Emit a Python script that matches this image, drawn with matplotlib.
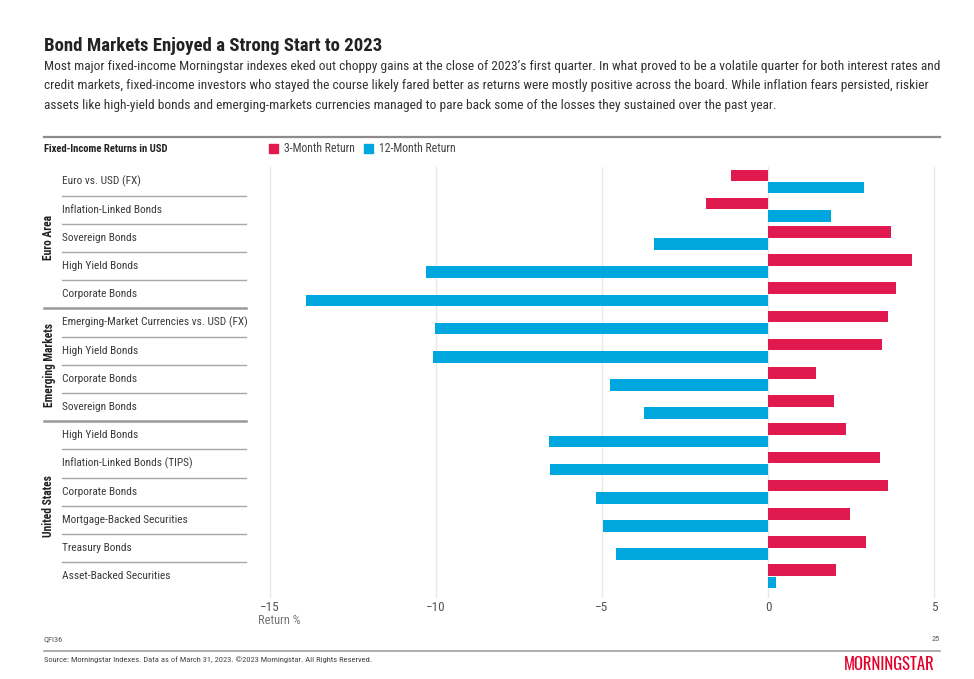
import matplotlib
matplotlib.use("Agg")
import matplotlib.pyplot as plt
from matplotlib import font_manager, transforms
from matplotlib.patches import Patch
from matplotlib.lines import Line2D

installed = {f.name for f in font_manager.fontManager.ttflist}
narrow = next((n for n in ["Roboto Condensed", "IBM Plex Sans Condensed", "Open Sans Condensed",
                           "Liberation Sans Narrow"] if n in installed), "DejaVu Sans")
logo_font = "Oswald" if "Oswald" in installed else narrow
plt.rcParams["font.family"] = [narrow, "DejaVu Sans"]

# data, top to bottom
groups = ["Euro Area", "Emerging Markets", "United States"]
group_sizes = [5, 4, 6]
categories = [
    "Euro vs. USD (FX)", "Inflation-Linked Bonds", "Sovereign Bonds", "High Yield Bonds", "Corporate Bonds",
    "Emerging-Market Currencies vs. USD (FX)", "High Yield Bonds", "Corporate Bonds", "Sovereign Bonds",
    "High Yield Bonds", "Inflation-Linked Bonds (TIPS)", "Corporate Bonds", "Mortgage-Backed Securities",
    "Treasury Bonds", "Asset-Backed Securities",
]
ret_3m = [-1.12, -1.86, 3.69, 4.34, 3.86, 3.60, 3.44, 1.44, 1.99, 2.35, 3.37, 3.60, 2.48, 2.96, 2.04]
ret_12m = [2.88, 1.89, -3.44, -10.31, -13.93, -10.03, -10.10, -4.77, -3.72, -6.61, -6.58, -5.19, -4.98, -4.59, 0.24]
x_ticks = [-15, -10, -5, 0, 5]

RED = "#E01A4F"
BLUE = "#00A6DE"
W, H = 974, 679


def fx(x):
    return x / W


def fy(y):
    return 1 - y / H


fig = plt.figure(figsize=(W / 100, H / 100), dpi=100)
fig.patch.set_facecolor("white")

# plot area: x=-15 at 270px, 5 at 934px; row i centred at 181.5 + 28.2*i px
left_px, right_px, top_px, bot_px = 258, 946, 167, 598
ax = fig.add_axes([fx(left_px), fy(bot_px), fx(right_px - left_px), (bot_px - top_px) / H])
ppu = (934 - 270) / 20
ax.set_xlim(-15 - (270 - left_px) / ppu, 5 + (right_px - 934) / ppu)
ax.set_ylim((bot_px - 181.5) / 28.2, (top_px - 181.5) / 28.2)

rows = list(range(len(categories)))
bh = 0.41
ax.barh([r - 0.215 for r in rows], ret_3m, height=bh, color=RED, label="3-Month Return", zorder=3)
ax.barh([r + 0.215 for r in rows], ret_12m, height=bh, color=BLUE, label="12-Month Return", zorder=3)

for t in x_ticks:
    ax.axvline(t, color="#E8E8E8", lw=1, zorder=1)
ax.set_xticks(x_ticks)
ax.set_xticklabels([str(t).replace("-", "\u2212") for t in x_ticks])
ax.set_yticks([])
ax.tick_params(axis="x", length=0, labelsize=9.5, labelcolor="#555555", pad=2)
for s in ax.spines.values():
    s.set_visible(False)
fig.text(fx(258), fy(620), "Return %", fontsize=9, color="#777777", ha="left", va="center")

# left table of labels
tr = transforms.blended_transform_factory(fig.transFigure, ax.transData)
for r, name in enumerate(categories):
    fig.text(fx(62), r, name, transform=tr, fontsize=8.2, color="#3A3A3A", ha="left", va="center")

start = 0
for g, n in zip(groups, group_sizes):
    for r in range(start, start + n - 1):
        fig.add_artist(Line2D([fx(62), fx(246)], [r + 0.5, r + 0.5], transform=tr, color="#A8A8A8", lw=1))
    if start + n < len(categories):
        fig.add_artist(Line2D([fx(44), fx(246)], [start + n - 0.5] * 2, transform=tr, color="#999999", lw=1.8))
    fig.text(fx(49), start + (n - 1) / 2, g, transform=tr, rotation=90, fontsize=8.3,
             fontweight="bold", color="#222222", ha="center", va="center")
    start += n

# header
fig.text(fx(44), fy(46), "Bond Markets Enjoyed a Strong Start to 2023", fontsize=13.5,
         fontweight="bold", color="#222222", ha="left", va="center")
subtitle = [
    "Most major fixed-income Morningstar indexes eked out choppy gains at the close of 2023\u2019s first quarter. "
    "In what proved to be a volatile quarter for both interest rates and",
    "credit markets, fixed-income investors who stayed the course likely fared better as returns were mostly "
    "positive across the board. While inflation fears persisted, riskier",
    "assets like high-yield bonds and emerging-markets currencies managed to pare back some of the losses "
    "they sustained over the past year.",
]
for i, line in enumerate(subtitle):
    fig.text(fx(44), fy(66.5 + 19.5 * i), line, fontsize=9.6, color="#333333", ha="left", va="center")

fig.add_artist(Line2D([fx(44), fx(940)], [fy(137), fy(137)], color="#8C8C8C", lw=1.6))
fig.text(fx(44), fy(149), "Fixed-Income Returns in USD", fontsize=7.7, fontweight="bold",
         color="#222222", ha="left", va="center")
fig.legend(handles=[Patch(color=RED, label="3-Month Return"), Patch(color=BLUE, label="12-Month Return")],
           loc="center left", bbox_to_anchor=(fx(269), fy(149)), ncol=2, frameon=False,
           fontsize=8.5, handlelength=0.75, handleheight=0.75, handletextpad=0.5,
           columnspacing=0.8, labelcolor="#444444", borderaxespad=0, borderpad=0)

# footer
fig.text(fx(44), fy(639), "QFI36", fontsize=6, color="#555555", ha="left", va="center")
fig.text(fx(940), fy(639), "25", fontsize=6, color="#555555", ha="right", va="center")
fig.add_artist(Line2D([fx(44), fx(940)], [fy(651), fy(651)], color="#A0A0A0", lw=1.2))
fig.text(fx(44), fy(660), "Source: Morningstar Indexes. Data as of March 31, 2023. \u00a92023 Morningstar. "
         "All Rights Reserved.", fontsize=6.1, color="#444444", ha="left", va="center")
fig.text(fx(935), fy(665), "MORNINGSTAR", fontsize=12, fontweight="bold", family=logo_font,
         color="#E4002B", ha="right", va="center")

fig.savefig("out.png", dpi=100, facecolor="white")
